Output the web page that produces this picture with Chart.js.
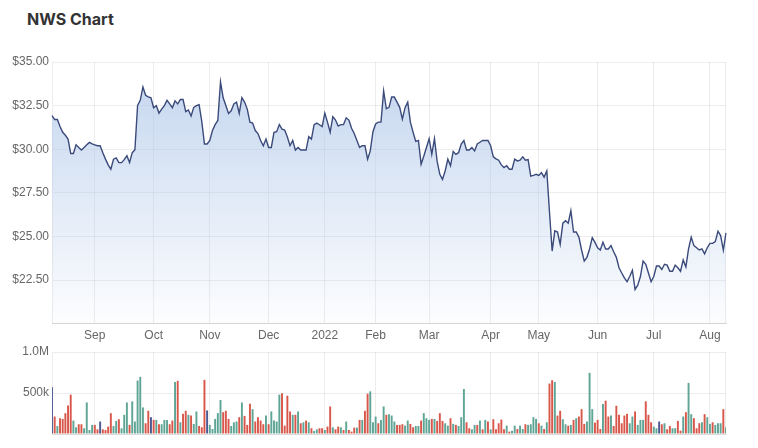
<!DOCTYPE html>
<html>
<head>
<meta charset="utf-8">
<script src="https://cdn.jsdelivr.net/npm/chart.js@4.4.0/dist/chart.umd.min.js"></script>
<style>
  body { margin: 0; background: #fff; width: 758px; height: 448px; overflow: hidden; position: relative; }
  h1 { position: absolute; left: 27px; top: 9px; margin: 0; font: 700 16px Inter, "Liberation Sans", sans-serif; color: #333; }
  #priceWrap { position: absolute; left: 0; top: 46px; width: 758px; height: 306px; }
  #volWrap { position: absolute; left: 0; top: 340px; width: 758px; height: 108px; }
</style>
</head>
<body>
<h1>NWS Chart</h1>
<div id="priceWrap"><canvas id="price" width="758" height="306"></canvas></div>
<div id="volWrap"><canvas id="volume" width="758" height="108"></canvas></div>
<script>
"use strict";

// months shown on the axis, and how many trading days each one has in the data
var monthNames = ['', 'Sep', 'Oct', 'Nov', 'Dec', '2022', 'Feb', 'Mar', 'Apr', 'May', 'Jun', 'Jul', 'Aug'];
var tradingDays = [16, 22, 21, 22, 21, 19, 20, 23, 18, 22, 21, 21, 7];

// daily close, AUD
var closePrices = [
    31.93, 31.7, 31.7, 31.3, 30.97, 30.8, 30.58, 29.75, 29.75, 30.25,
    30.1, 29.95, 30.1, 30.25, 30.39, 30.3, 30.25, 30.2, 30.2, 29.8,
    29.43, 29.1, 28.85, 29.43, 29.5, 29.23, 29.23, 29.4, 29.62, 29.23,
    29.8, 29.97, 32.51, 32.8, 33.57, 33.09, 33.0, 32.95, 32.38, 32.5,
    32.07, 32.3, 32.5, 32.8, 32.6, 32.38, 32.77, 32.6, 32.85, 32.85,
    32.15, 32.25, 31.9, 32.4, 32.5, 32.55, 31.6, 30.3, 30.3, 30.5,
    31.07, 31.41, 31.65, 33.86, 32.95, 32.5, 32.05, 32.2, 32.6, 32.7,
    32.05, 32.95, 32.7, 32.3, 31.55, 31.5, 31.07, 30.9, 30.5, 30.2,
    30.58, 30.1, 30.1, 30.97, 31.0, 31.41, 31.15, 31.1, 30.7, 30.2,
    30.5, 29.95, 30.1, 29.95, 29.95, 29.95, 30.72, 30.58, 31.41, 31.5,
    31.4, 31.3, 32.07, 31.55, 30.97, 31.87, 31.67, 31.33, 31.41, 31.41,
    31.8, 31.67, 31.2, 30.9, 30.5, 30.1, 30.2, 30.2, 29.43, 29.9,
    31.0, 31.45, 31.55, 31.55, 33.34, 32.32, 32.4, 32.99, 32.99, 32.7,
    32.4, 31.72, 32.38, 32.7, 31.55, 30.97, 30.45, 30.5, 29.14, 29.6,
    30.1, 30.6, 29.7, 30.6, 29.3, 28.56, 28.27, 28.75, 29.43, 29.05,
    29.87, 29.7, 29.8, 30.3, 30.5, 29.95, 29.95, 30.1, 29.9, 30.3,
    30.4, 30.5, 30.5, 30.5, 30.2, 29.56, 29.45, 29.37, 29.1, 28.95,
    29.05, 28.85, 28.85, 29.43, 29.33, 29.37, 29.56, 29.37, 29.4, 28.46,
    28.5, 28.56, 28.5, 28.66, 28.4, 28.75, 26.4, 24.16, 25.32, 25.25,
    24.54, 25.76, 25.9, 25.76, 26.47, 25.25, 25.25, 24.96, 24.22, 23.58,
    23.8, 24.28, 24.93, 24.66, 24.35, 24.22, 24.66, 24.28, 24.28, 24.47,
    24.12, 23.8, 23.2, 22.9, 22.62, 22.4, 22.7, 23.06, 21.96, 22.2,
    22.7, 23.58, 23.4, 22.9, 22.4, 22.7, 23.3, 23.3, 23.1, 23.4,
    23.35, 23.0, 23.0, 23.35, 23.2, 23.0, 23.65, 23.25, 24.28, 24.96,
    24.47, 24.35, 24.22, 24.28, 24.0, 24.35, 24.6, 24.6, 24.7, 25.3,
    25.05, 24.22, 25.2
];

// daily volume, thousands of shares
var volumeK = [
    570, 213, 98, 193, 184, 254, 348, 480, 164, 82,
    119, 119, 70, 385, 49, 111, 111, 57, 152, 57,
    49, 90, 254, 98, 160, 180, 70, 234, 385, 111,
    398, 152, 652, 697, 324, 131, 283, 205, 172, 172,
    119, 119, 172, 172, 119, 164, 635, 648, 143, 246,
    283, 234, 225, 123, 275, 98, 82, 660, 287, 111,
    61, 184, 254, 414, 266, 283, 184, 98, 143, 152,
    205, 385, 221, 111, 369, 303, 152, 205, 164, 119,
    225, 119, 275, 164, 152, 480, 496, 102, 467, 275,
    234, 234, 275, 131, 143, 164, 143, 70, 37, 57,
    70, 70, 49, 90, 336, 82, 57, 90, 82, 49,
    152, 49, 29, 78, 78, 172, 172, 283, 492, 520,
    143, 213, 131, 172, 336, 234, 242, 225, 152, 111,
    111, 119, 102, 164, 123, 82, 98, 98, 164, 254,
    193, 172, 184, 184, 160, 254, 160, 131, 102, 193,
    123, 111, 98, 205, 549, 143, 70, 57, 111, 111,
    164, 57, 172, 152, 57, 180, 57, 131, 176, 57,
    102, 29, 41, 102, 61, 102, 61, 119, 111, 119,
    205, 184, 131, 102, 61, 143, 615, 656, 635, 225,
    283, 180, 119, 102, 111, 172, 193, 213, 303, 123,
    152, 746, 303, 139, 172, 61, 365, 406, 213, 225,
    98, 344, 234, 131, 225, 246, 131, 213, 275, 111,
    172, 172, 398, 234, 143, 90, 70, 152, 119, 131,
    57, 98, 70, 70, 160, 41, 213, 266, 623, 242,
    193, 70, 131, 143, 242, 205, 123, 143, 111, 131,
    131, 303, 82
];

// bar colour per day: g = up, r = down, b = unchanged
var volumeMoves =
    "brgrrrrrgg" + "rrggggrrbr" + "rrrggrgggr" + "gggggrrbrg" + "rgggrrgrgr" +
    "rgrggrrrbg" + "ggggrrrggg" + "rgrrrgrrrr" + "grggggrrrr" + "grgrgrgrgg" +
    "rrgrrgrrgr" + "grrrgrgrrg" + "ggrggrgggr" + "rrggrrggrg" + "ggrgrrrggr" +
    "grgggrrggr" + "grgrgrrrrr" + "grggrggrgg" + "ggrgrgrrgr" + "rggrgrgrrr" +
    "gggrrrgrrg" + "rrrrrrggrg" + "ggrrrggbrg" + "rrggrrgrgg" + "rrrgrggrgg" +
    "grg";

var moveColors = { g: "#5fa596", r: "#d9574a", b: "#4a5a92" };
var gridColor = "rgba(0,0,0,0.07)";

Chart.defaults.font.family = '"Liberation Sans", Arial, sans-serif';
Chart.defaults.font.size = 12;
Chart.defaults.color = "#666";
Chart.defaults.animation = false;

// one label per trading day, month name on the first day of each month
var dayLabels = [];
monthNames.forEach(function (name, m) {
    for (var d = 0; d < tradingDays[m]; d++) {
        dayLabels.push(d === 0 ? name : "");
    }
});

function keepMonthTicks(scale) {
    scale.ticks = scale.ticks.filter(function (t) {
        return dayLabels[t.value] !== "";
    });
}

// faint line on the right edge of the plot
var edgeLine = {
    id: "edgeLine",
    beforeDatasetsDraw: function (chart) {
        var a = chart.chartArea, c = chart.ctx;
        c.save();
        c.strokeStyle = gridColor;
        c.lineWidth = 1;
        c.beginPath();
        c.moveTo(a.right - 0.5, a.top);
        c.lineTo(a.right - 0.5, a.bottom);
        c.stroke();
        c.restore();
    }
};

function fixedWidth(scale) {
    scale.width = 52;
}

new Chart(document.getElementById("price").getContext("2d"), {
    type: "line",
    data: {
        labels: dayLabels,
        datasets: [{
            data: closePrices,
            borderColor: "#3a4a7a",
            borderWidth: 1.4,
            pointRadius: 0,
            tension: 0,
            fill: "start",
            backgroundColor: function (ctx) {
                var a = ctx.chart.chartArea;
                if (!a) {
                    return "rgba(190,208,236,0.5)";
                }
                var g = ctx.chart.ctx.createLinearGradient(0, a.top, 0, a.bottom);
                g.addColorStop(0, "rgba(178,201,234,0.78)");
                g.addColorStop(1, "rgba(178,201,234,0.03)");
                return g;
            }
        }]
    },
    options: {
        responsive: false,
        layout: { padding: { top: 16, right: 32, bottom: 4, left: 0 } },
        plugins: { legend: { display: false }, tooltip: { enabled: false } },
        scales: {
            x: {
                afterBuildTicks: keepMonthTicks,
                ticks: { autoSkip: false, maxRotation: 0, padding: 5 },
                grid: { color: gridColor, drawTicks: false },
                border: { color: "rgba(0,0,0,0.1)" }
            },
            y: {
                min: 20,
                max: 35,
                afterFit: fixedWidth,
                ticks: {
                    stepSize: 2.5,
                    padding: 3,
                    callback: function (v) {
                        return v === 20 ? "" : "$" + v.toFixed(2);
                    }
                },
                grid: { color: gridColor, drawTicks: false },
                border: { color: gridColor }
            }
        }
    },
    plugins: [edgeLine]
});

new Chart(document.getElementById("volume").getContext("2d"), {
    type: "bar",
    data: {
        labels: dayLabels,
        datasets: [{
            data: volumeK.map(function (v) { return v * 1000; }),
            backgroundColor: volumeMoves.split("").map(function (m) { return moveColors[m]; }),
            categoryPercentage: 0.8,
            barPercentage: 0.9
        }]
    },
    options: {
        responsive: false,
        layout: { padding: { top: 12, right: 32, bottom: 14, left: 0 } },
        plugins: { legend: { display: false }, tooltip: { enabled: false } },
        scales: {
            x: {
                offset: false,
                afterBuildTicks: keepMonthTicks,
                ticks: { display: false, autoSkip: false },
                grid: { color: gridColor, drawTicks: false, offset: false },
                border: { color: gridColor }
            },
            y: {
                min: 0,
                max: 1000000,
                afterFit: fixedWidth,
                ticks: {
                    stepSize: 500000,
                    padding: 3,
                    callback: function (v) {
                        if (v === 0) { return ""; }
                        return v >= 1000000 ? (v / 1000000).toFixed(1) + "M" : (v / 1000) + "k";
                    }
                },
                grid: { color: gridColor, drawTicks: false },
                border: { color: gridColor }
            }
        }
    },
    plugins: [edgeLine]
});
</script>
</body>
</html>
